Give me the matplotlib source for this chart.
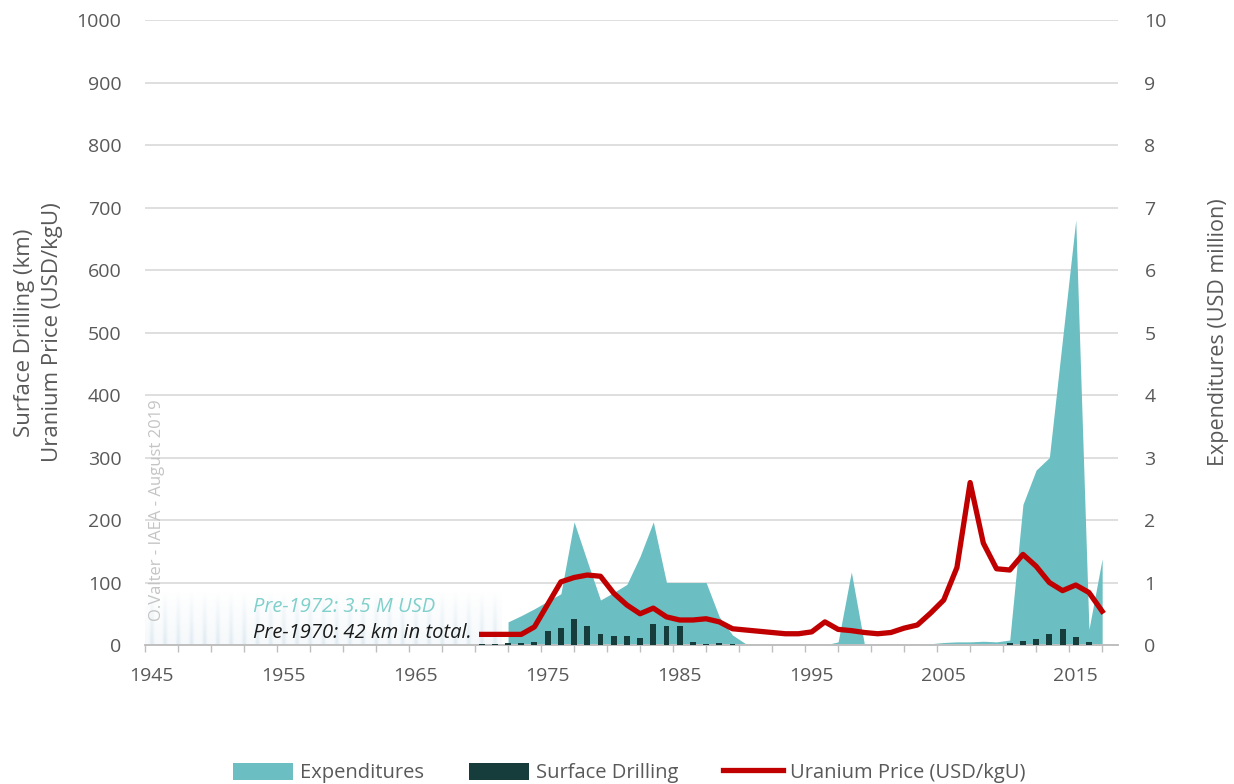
import numpy as np
import matplotlib
matplotlib.use("Agg")
import matplotlib.pyplot as plt
from matplotlib.patches import Patch
from matplotlib.lines import Line2D

plt.rcParams['font.family'] = ['Open Sans', 'DejaVu Sans']

# Uranium price (USD/kgU), left axis
price_years = list(range(1970, 2018))
price = [17, 17, 17, 17, 29, 65, 101, 108, 112, 110, 83, 64, 50, 59, 45, 40,
         40, 42, 37, 26, 24, 22, 20, 18, 18, 21, 37, 25, 23, 20, 18, 20, 27,
         32, 51, 72, 124, 260, 163, 122, 120, 145, 126, 100, 87, 96, 84, 54]

# Expenditures (USD million), right axis
exp_years = list(range(1972, 2018))
expenditures = [0.37, 0.47, 0.58, 0.70, 0.82, 1.97, 1.34, 0.72, 0.84, 0.97,
                1.42, 1.97, 1.0, 1.0, 1.0, 1.0, 0.45, 0.16, 0.02, 0.0, 0.0,
                0.0, 0.0, 0.0, 0.0, 0.05, 1.17, 0.0, 0.0, 0.0, 0.0, 0.0, 0.02,
                0.04, 0.05, 0.05, 0.06, 0.05, 0.08, 2.25, 2.8, 3.0, 4.9, 6.8,
                0.25, 1.38]

# Surface drilling (km), left axis
drill_years = list(range(1970, 2018))
drilling = [1, 1, 3, 3, 5, 22, 27, 42, 31, 18, 14, 14, 11, 33, 31, 31, 5, 2,
            3, 2, 0, 0, 0, 0, 0, 0, 0, 0, 0, 0, 0, 0, 0, 0, 0, 0, 0, 0, 0, 0,
            3, 6, 10, 17, 25, 12, 4, 0]

teal = '#6bbec1'
dark = '#173c3c'
red = '#c00000'
grey_txt = '#595959'

fig = plt.figure(figsize=(12.34, 7.84), dpi=100)
ax2 = fig.add_axes([0.1175, 0.1773, 0.7885, 0.797])
ax = ax2.twinx()
ax.set_zorder(ax2.get_zorder() + 1)
ax.patch.set_visible(False)

# Excel-style category centres
ex = np.array(exp_years) + 0.5
px = np.array(price_years) + 0.5
dx = np.array(drill_years) + 0.5

# background grid + expenditures area on the right-axis scale
ax2.set_ylim(0, 10)
ax2.set_yticks(range(0, 11))
ax2.grid(axis='y', color='#d9d9d9', linewidth=1.2)
ax2.set_axisbelow(True)
ax2.fill_between(ex, 0, expenditures, color=teal, linewidth=0, zorder=2)

# faded pre-1972 stripes
xs = np.linspace(1945, 1972, 600)
ys = np.linspace(0, 0.85, 80)
X, Y = np.meshgrid(xs, ys)
stripe = 0.3 + 0.7 * np.cos(np.pi * (X - 1945.5)) ** 8
alpha = 0.32 * stripe * (1 - Y / 0.85) ** 0.9
img = np.zeros(X.shape + (4,))
img[..., 0] = 0.62
img[..., 1] = 0.76
img[..., 2] = 0.84
img[..., 3] = alpha
ax2.imshow(img, extent=(1945, 1972, 0, 0.85), origin='lower', aspect='auto', zorder=1)

# drilling bars and price line on left axis
ax.bar(dx, drilling, width=0.45, color=dark, zorder=3)
ax.plot(px, price, color=red, linewidth=3.8, solid_joinstyle='round', zorder=4)
ax.set_ylim(0, 1000)
ax.set_xlim(1945, 2018.7)

ax.yaxis.tick_left()
ax.yaxis.set_label_position('left')
ax2.yaxis.tick_right()
ax2.yaxis.set_label_position('right')
ax.set_yticks(range(0, 1001, 100))

for a in (ax, ax2):
    for s in ('top', 'left', 'right'):
        a.spines[s].set_visible(False)
    a.spines['bottom'].set_color('#bfbfbf')
    a.spines['bottom'].set_linewidth(1.2)

ax.tick_params(axis='y', length=0, pad=17, labelsize=14, labelcolor=grey_txt)
ax2.tick_params(axis='y', length=0, pad=19, labelsize=14, labelcolor=grey_txt)

ax2.set_xticks(np.arange(1945, 2016, 10) + 0.5)
ax2.set_xticklabels([str(y) for y in range(1945, 2016, 10)])
ax2.set_xticks(np.arange(1945, 2018.7, 2.5), minor=True)
ax2.tick_params(axis='x', which='major', length=0, pad=16, labelsize=14, labelcolor=grey_txt)
ax2.tick_params(axis='x', which='minor', length=5, color='#bfbfbf', width=1)
ax.tick_params(axis='x', which='both', bottom=False, labelbottom=False)
ax2.set_xlim(1945, 2018.7)

ax.set_ylabel('Surface Drilling (km)\nUranium Price (USD/kgU)', fontsize=16,
              color=grey_txt, labelpad=10, linespacing=1.4)
ax2.set_ylabel('Expenditures (USD million)', fontsize=15.5, color=grey_txt, labelpad=30)

ax.text(1953.2, 61, 'Pre-1972: 3.5 M USD', style='italic', fontsize=14.5,
        color='#7fcfcb', va='center', ha='left', zorder=5)
ax.text(1953.2, 19, 'Pre-1970: 42 km in total.', style='italic', fontsize=14.5,
        color='#1a1a1a', va='center', ha='left', zorder=5)
ax.text(1945.9, 216, 'O.Valter - IAEA - August 2019', rotation=90, fontsize=12,
        color='#c4c4c4', va='center', ha='center', zorder=5)

handles = [Patch(facecolor=teal, edgecolor='none', label='Expenditures'),
           Patch(facecolor=dark, edgecolor='none', label='Surface Drilling'),
           Line2D([0], [0], color=red, linewidth=3.8, label='Uranium Price (USD/kgU)')]
leg = fig.legend(handles=handles, loc='lower center', bbox_to_anchor=(0.51, -0.022),
                 ncol=3, frameon=False, fontsize=14.5, handlelength=3.0, handleheight=0.9,
                 handletextpad=0.35, columnspacing=2.2)
for t in leg.get_texts():
    t.set_color(grey_txt)

fig.savefig('out.png', dpi=100)
